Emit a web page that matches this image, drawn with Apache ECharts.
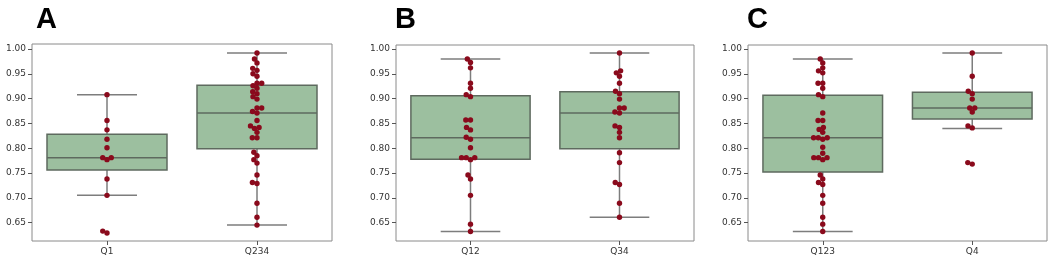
<!DOCTYPE html>
<html><head><meta charset="utf-8">
<script src="https://cdn.jsdelivr.net/npm/echarts@6/dist/echarts.min.js"></script>
<style>html,body{margin:0;padding:0;background:#fff}#c{width:1050px;height:261px}</style>
</head><body><div id="c"></div>
<script>
const panelLabels = ['A', 'B', 'C'];
const categoriesA = ['Q1', 'Q234'];
const categoriesB = ['Q12', 'Q34'];
const categoriesC = ['Q123', 'Q4'];
// box statistics: [lower whisker, Q1, median, Q3, upper whisker]
const boxA = [[0.705, 0.756, 0.781, 0.828, 0.908], [0.645, 0.799, 0.871, 0.927, 0.992]];
const boxB = [[0.632, 0.778, 0.821, 0.906, 0.980], [0.661, 0.799, 0.871, 0.914, 0.992]];
const boxC = [[0.632, 0.752, 0.821, 0.907, 0.980], [0.840, 0.859, 0.881, 0.913, 0.992]];
// individual observations
const pointsQ1 = [0.908, 0.856, 0.837, 0.818, 0.801, 0.781, 0.781, 0.777, 0.738, 0.705, 0.633, 0.629];
const pointsQ234 = [0.992, 0.980, 0.972, 0.961, 0.957, 0.950, 0.945, 0.931, 0.931, 0.926, 0.921, 0.914, 0.910, 0.904, 0.899, 0.881, 0.881, 0.874, 0.871, 0.856, 0.845, 0.842, 0.840, 0.832, 0.821, 0.821, 0.792, 0.785, 0.777, 0.770, 0.746, 0.731, 0.729, 0.689, 0.661, 0.645];
const pointsQ12 = [0.980, 0.973, 0.962, 0.931, 0.921, 0.908, 0.904, 0.857, 0.857, 0.842, 0.837, 0.822, 0.818, 0.801, 0.781, 0.781, 0.781, 0.777, 0.746, 0.738, 0.705, 0.647, 0.632];
const pointsQ34 = [0.992, 0.956, 0.952, 0.945, 0.931, 0.915, 0.910, 0.899, 0.881, 0.881, 0.873, 0.871, 0.845, 0.842, 0.832, 0.821, 0.791, 0.771, 0.731, 0.727, 0.689, 0.661];
const pointsQ123 = [0.980, 0.972, 0.962, 0.956, 0.952, 0.931, 0.931, 0.921, 0.908, 0.904, 0.871, 0.856, 0.856, 0.842, 0.838, 0.832, 0.821, 0.821, 0.821, 0.818, 0.802, 0.790, 0.781, 0.781, 0.781, 0.777, 0.746, 0.738, 0.731, 0.727, 0.705, 0.689, 0.661, 0.647, 0.632];
const pointsQ4 = [0.992, 0.945, 0.915, 0.910, 0.899, 0.881, 0.881, 0.873, 0.845, 0.841, 0.771, 0.768];
const yTicks = [0.65, 0.70, 0.75, 0.80, 0.85, 0.90, 0.95, 1.00];

const panels = [
  { label: panelLabels[0], cats: categoriesA, box: boxA, pts: [pointsQ1, pointsQ234] },
  { label: panelLabels[1], cats: categoriesB, box: boxB, pts: [pointsQ12, pointsQ34] },
  { label: panelLabels[2], cats: categoriesC, box: boxC, pts: [pointsQ123, pointsQ4] }
];
const layout = [
  { left: 32, top: 44, width: 300, height: 197, max: 1.0101, titleLeft: 36 },
  { left: 396, top: 45, width: 298, height: 196, max: 1.0081, titleLeft: 395 },
  { left: 748, top: 45, width: 299, height: 196, max: 1.0081, titleLeft: 747 }
];
const yMin = 0.613;

const FONT = 'DejaVu Sans';
const BOX_FILL = '#9cbf9f';
const BOX_EDGE = '#5e6a5f';
const LINE_COL = '#7d7d7d';
const DOT_COL = '#8a0a1c';

const chart = echarts.init(document.getElementById('c'), null, { renderer: 'canvas' });

function renderBox(params, api) {
  const x = api.value(0);
  const low = api.coord([x, api.value(1)]);
  const q1 = api.coord([x, api.value(2)]);
  const med = api.coord([x, api.value(3)]);
  const q3 = api.coord([x, api.value(4)]);
  const high = api.coord([x, api.value(5)]);
  const band = api.size([1, 0])[0];
  const bw = band * 0.8, cw = band * 0.4;
  const cx = low[0];
  const lineStyle = { stroke: LINE_COL, lineWidth: 1.5 };
  return {
    type: 'group',
    children: [
      { type: 'line', shape: { x1: cx, y1: q1[1], x2: cx, y2: low[1] }, style: lineStyle },
      { type: 'line', shape: { x1: cx, y1: q3[1], x2: cx, y2: high[1] }, style: lineStyle },
      { type: 'line', shape: { x1: cx - cw / 2, y1: low[1], x2: cx + cw / 2, y2: low[1] }, style: lineStyle },
      { type: 'line', shape: { x1: cx - cw / 2, y1: high[1], x2: cx + cw / 2, y2: high[1] }, style: lineStyle },
      { type: 'rect', shape: { x: cx - bw / 2, y: q3[1], width: bw, height: q1[1] - q3[1] },
        style: { fill: BOX_FILL, stroke: BOX_EDGE, lineWidth: 1.5 } },
      { type: 'line', shape: { x1: cx - bw / 2, y1: med[1], x2: cx + bw / 2, y2: med[1] },
        style: { stroke: BOX_EDGE, lineWidth: 1.5 } }
    ]
  };
}

const option = {
  animation: false,
  backgroundColor: '#fff',
  title: panels.map((p, i) => ({
    text: p.label, left: layout[i].titleLeft, top: 5, padding: 0,
    textStyle: { fontFamily: 'Liberation Sans', fontWeight: 'bold', fontSize: 29, color: '#000' }
  })),
  grid: layout.map(l => ({
    left: l.left, top: l.top, width: l.width, height: l.height,
    show: true, borderColor: '#8a8a8a', borderWidth: 1, backgroundColor: 'transparent'
  })),
  xAxis: panels.map((p, i) => ({
    type: 'category', gridIndex: i, data: p.cats, boundaryGap: true,
    axisLine: { show: false },
    axisTick: { show: true, alignWithLabel: true, length: 4, lineStyle: { color: '#555' } },
    axisLabel: { fontFamily: FONT, fontSize: 9, color: '#333', margin: 6 },
    splitLine: { show: false }
  })),
  yAxis: panels.map((p, i) => ({
    type: 'value', gridIndex: i, min: yMin, max: layout[i].max,
    axisLine: { show: false },
    axisTick: { show: true, length: 4, lineStyle: { color: '#555' }, customValues: yTicks },
    axisLabel: { fontFamily: FONT, fontSize: 9, color: '#333', margin: 6,
      customValues: yTicks, formatter: v => v.toFixed(2) },
    splitLine: { show: false }
  })),
  series: []
};

panels.forEach((p, i) => {
  option.series.push({
    type: 'custom', xAxisIndex: i, yAxisIndex: i, z: 2,
    renderItem: renderBox,
    encode: { x: 0, y: [1, 2, 3, 4, 5] },
    data: p.box.map((b, k) => [k].concat(b))
  });
});
panels.forEach((p, i) => {
  p.pts.forEach((arr, k) => {
    option.series.push({
      type: 'scatter', xAxisIndex: i, yAxisIndex: i, z: 5,
      symbolSize: 5.4,
      itemStyle: { color: DOT_COL, opacity: 1 },
      data: arr.map(v => [k, v])
    });
  });
});

chart.setOption(option);

// beeswarm offsets computed in pixel space from the library's own scale
const D = 4.7;
function swarm(ys) {
  const order = ys.map((y, i) => i).sort((a, b) => ys[b] - ys[a]);
  const placed = [];
  const off = new Array(ys.length).fill(0);
  order.forEach(i => {
    const y = ys[i];
    const near = placed.filter(p => Math.abs(p.y - y) < D);
    const cands = [0];
    let leftFirst = true;
    near.forEach(p => {
      const dx = Math.sqrt(D * D - (p.y - y) * (p.y - y));
      const cl = p.x - dx, cr = p.x + dx;
      if (leftFirst) cands.push(cl, cr); else cands.push(cr, cl);
      leftFirst = !leftFirst;
    });
    const sorted = cands.map((c, j) => ({ c, j })).sort((a, b) => (Math.abs(a.c) - Math.abs(b.c)) || (a.j - b.j));
    let chosen = 0;
    for (const s of sorted) {
      const ok = near.every(p => Math.hypot(p.x - s.c, p.y - y) >= D - 1e-6);
      if (ok) { chosen = s.c; break; }
    }
    placed.push({ x: chosen, y });
    off[i] = chosen;
  });
  return off;
}

const seriesUpd = option.series.map(() => ({}));
let sIdx = panels.length;
panels.forEach((p, i) => {
  p.pts.forEach((arr, k) => {
    const ys = arr.map(v => chart.convertToPixel({ gridIndex: i }, [k, v])[1]);
    const off = swarm(ys);
    seriesUpd[sIdx] = { data: arr.map((v, j) => ({ value: [k, v], symbolOffset: [off[j], 0] })) };
    sIdx++;
  });
});
chart.setOption({ series: seriesUpd });
</script></body></html>
